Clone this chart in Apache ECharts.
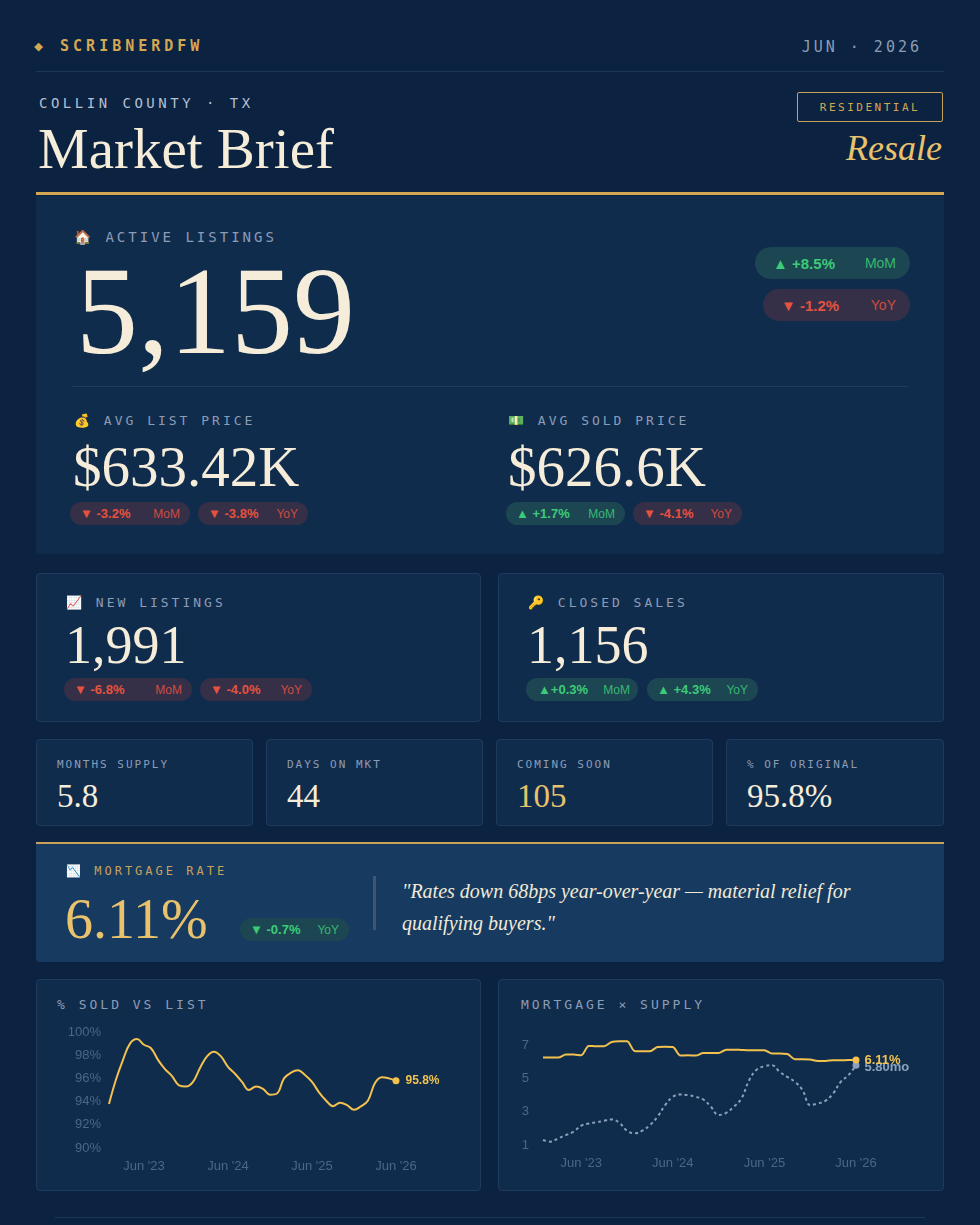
<!DOCTYPE html>
<html><head><meta charset="utf-8">
<script src="https://cdn.jsdelivr.net/npm/echarts@6/dist/echarts.min.js"></script>
<style>
html,body{margin:0;padding:0;background:#0b2341;width:980px;height:1225px;overflow:hidden}
.a{position:absolute;white-space:nowrap}
.mono{font-family:"DejaVu Sans Mono",monospace;letter-spacing:3px}
.serif{font-family:"Liberation Serif","DejaVu Serif",serif;color:#f5edd9}
.card{position:absolute;background:#102c4d;border:1px solid #1e3b5e;border-radius:4px;box-sizing:border-box}
.pill{position:absolute;border-radius:14px;font-family:"Liberation Sans",sans-serif;font-size:13px;display:flex;align-items:center;box-sizing:border-box;padding:0 10px}
.up{background:#1c4752;color:#3ccb78}
.dn{background:#352f48;color:#e5533f}
.pill b{font-weight:600}
.pill i{font-style:normal;margin-left:auto;opacity:.85;font-size:12px}
.lab{font-family:"DejaVu Sans Mono",monospace;letter-spacing:3px;color:#8d9cb5;font-size:13px}
</style></head><body>
<script>
// ---- data ----
const months = ["Jan '23","Feb '23","Mar '23","Apr '23","May '23","Jun '23","Jul '23","Aug '23","Sep '23","Oct '23","Nov '23","Dec '23",
"Jan '24","Feb '24","Mar '24","Apr '24","May '24","Jun '24","Jul '24","Aug '24","Sep '24","Oct '24","Nov '24","Dec '24",
"Jan '25","Feb '25","Mar '25","Apr '25","May '25","Jun '25","Jul '25","Aug '25","Sep '25","Oct '25","Nov '25","Dec '25",
"Jan '26","Feb '26","Mar '26","Apr '26","May '26","Jun '26"];
const soldVsList = [93.8,95.9,97.6,99.0,99.4,98.9,98.6,97.6,96.8,96.2,95.4,95.3,95.7,96.9,97.9,98.3,97.9,97.0,96.4,95.7,95.0,95.3,95.1,94.6,94.7,96.0,96.5,96.7,96.3,95.7,94.8,94.1,93.6,93.9,93.7,93.3,93.6,94.1,95.6,96.1,96.0,95.8];
const mortgageRate = [6.26,6.26,6.26,6.44,6.44,6.40,6.96,6.94,6.94,7.20,7.24,7.24,6.66,6.64,6.64,6.90,6.92,6.90,6.38,6.40,6.38,6.54,6.54,6.54,6.74,6.74,6.72,6.70,6.70,6.70,6.50,6.50,6.48,6.16,6.16,6.14,6.06,6.06,6.10,6.10,6.11,6.11];
const monthsSupply = [1.3,1.2,1.4,1.6,1.8,2.16,2.3,2.36,2.46,2.54,2.34,1.86,1.7,1.86,2.2,2.7,3.4,3.9,4.04,4.0,3.9,3.74,3.3,2.8,2.94,3.3,3.8,4.9,5.54,5.74,5.8,5.4,5.1,4.8,4.3,3.4,3.5,3.66,4.1,4.8,5.2,5.8];
const soldTicks = [90,92,94,96,98,100];
const supplyTicks = [1,3,5,7];
</script>
<div class="a mono" style="left:34px;top:37px;color:#d4a853;font-size:15px;font-weight:bold;letter-spacing:4px">◆ SCRIBNERDFW</div>
<div class="a mono" style="right:58px;top:38px;color:#8d9cb5;font-size:15px">JUN · 2026</div>
<div class="a" style="left:36px;top:71px;width:908px;height:1px;background:#1d3756"></div>
<div class="a mono" style="left:39px;top:95px;color:#b4bfd0;font-size:14px;letter-spacing:3.5px">COLLIN COUNTY · TX</div>
<div class="a serif" style="left:38px;top:116px;font-size:57px">Market Brief</div>
<div class="a mono" style="left:797px;top:92px;width:146px;height:30px;border:1px solid #c9a25a;border-radius:2px;box-sizing:border-box;color:#d4a853;font-size:11px;display:flex;align-items:center;justify-content:center;letter-spacing:2.5px">RESIDENTIAL</div>
<div class="a serif" style="right:38px;top:127px;font-size:36px;font-style:italic;color:#e8c26c">Resale</div>
<div class="a" style="left:36px;top:192px;width:908px;height:3px;background:#d4a853"></div>

<div class="card" style="left:36px;top:196px;width:908px;height:358px;border:none;border-radius:0 0 4px 4px;background:#102c4d"></div>
<div class="a lab" style="left:74px;top:229px;font-size:14px">🏠 ACTIVE LISTINGS</div>
<div class="a serif" style="left:76px;top:262px;font-size:124px;line-height:100px">5,159</div>
<div class="pill up" style="left:755px;top:247px;width:155px;height:32px;font-size:15px;border-radius:16px;padding:0 14px 0 18px"><b>▲ +8.5%</b><i style="font-size:14px">MoM</i></div>
<div class="pill dn" style="left:763px;top:289px;width:147px;height:32px;font-size:15px;border-radius:16px;padding:0 14px 0 18px"><b>▼ -1.2%</b><i style="font-size:14px">YoY</i></div>
<div class="a" style="left:72px;top:386px;width:836px;height:1px;background:#1f3c5f"></div>

<div class="a lab" style="left:74px;top:413px">💰 AVG LIST PRICE</div>
<div class="a serif" style="left:73px;top:434px;font-size:57px">$633.42K</div>
<div class="pill dn" style="left:70px;top:502px;width:120px;height:23px"><b>▼ -3.2%</b><i>MoM</i></div>
<div class="pill dn" style="left:198px;top:502px;width:110px;height:23px"><b>▼ -3.8%</b><i>YoY</i></div>
<div class="a lab" style="left:508px;top:413px">💵 AVG SOLD PRICE</div>
<div class="a serif" style="left:508px;top:434px;font-size:57px">$626.6K</div>
<div class="pill up" style="left:506px;top:502px;width:119px;height:23px"><b>▲ +1.7%</b><i>MoM</i></div>
<div class="pill dn" style="left:633px;top:502px;width:109px;height:23px"><b>▼ -4.1%</b><i>YoY</i></div>

<div class="card" style="left:36px;top:573px;width:445px;height:149px"></div>
<div class="a lab" style="left:66px;top:595px">📈 NEW LISTINGS</div>
<div class="a serif" style="left:65px;top:614px;font-size:54px">1,991</div>
<div class="pill dn" style="left:64px;top:678px;width:128px;height:23px"><b>▼ -6.8%</b><i>MoM</i></div>
<div class="pill dn" style="left:200px;top:678px;width:112px;height:23px"><b>▼ -4.0%</b><i>YoY</i></div>
<div class="card" style="left:498px;top:573px;width:446px;height:149px"></div>
<div class="a lab" style="left:528px;top:595px">🔑 CLOSED SALES</div>
<div class="a serif" style="left:527px;top:614px;font-size:54px">1,156</div>
<div class="pill up" style="left:526px;top:678px;width:112px;height:23px;padding:0 8px 0 12px"><b>▲+0.3%</b><i>MoM</i></div>
<div class="pill up" style="left:647px;top:678px;width:111px;height:23px"><b>▲ +4.3%</b><i>YoY</i></div>

<div class="card" style="left:36px;top:739px;width:217px;height:87px"></div>
<div class="a lab" style="left:57px;top:758px;font-size:11px;letter-spacing:2px">MONTHS SUPPLY</div>
<div class="a serif" style="left:57px;top:778px;font-size:33px">5.8</div>
<div class="card" style="left:266px;top:739px;width:217px;height:87px"></div>
<div class="a lab" style="left:287px;top:758px;font-size:11px;letter-spacing:2px">DAYS ON MKT</div>
<div class="a serif" style="left:287px;top:778px;font-size:33px">44</div>
<div class="card" style="left:496px;top:739px;width:217px;height:87px"></div>
<div class="a lab" style="left:517px;top:758px;font-size:11px;letter-spacing:2px">COMING SOON</div>
<div class="a serif" style="left:517px;top:778px;font-size:33px;color:#e8c26c">105</div>
<div class="card" style="left:726px;top:739px;width:218px;height:87px"></div>
<div class="a lab" style="left:747px;top:758px;font-size:11px;letter-spacing:2px">% OF ORIGINAL</div>
<div class="a serif" style="left:747px;top:778px;font-size:33px">95.8%</div>

<div class="card" style="left:36px;top:842px;width:908px;height:120px;background:#173a61;border:none;border-top:2px solid #c9a25a;border-radius:0 0 4px 4px"></div>
<div class="a lab" style="left:66px;top:864px;color:#c9a25a;font-size:12px">📉 MORTGAGE RATE</div>
<div class="a serif" style="left:65px;top:887px;font-size:56px;color:#e8c26c">6.11%</div>
<div class="pill up" style="left:240px;top:918px;width:109px;height:23px"><b>▼ -0.7%</b><i>YoY</i></div>
<div class="a" style="left:373px;top:876px;width:3px;height:54px;background:#3f5673"></div>
<div class="a serif" style="left:402px;top:875px;font-size:20px;font-style:italic;line-height:32px;color:#f2ead6">"Rates down 68bps year-over-year — material relief for<br>qualifying buyers."</div>

<div class="card" style="left:36px;top:979px;width:445px;height:212px"></div>
<div class="a lab" style="left:57px;top:997px">% SOLD VS LIST</div>
<div id="c1" class="a" style="left:36px;top:979px;width:445px;height:212px"></div>
<div class="card" style="left:498px;top:979px;width:446px;height:212px"></div>
<div class="a lab" style="left:521px;top:997px">MORTGAGE × SUPPLY</div>
<div id="c2" class="a" style="left:498px;top:979px;width:446px;height:212px"></div>
<div class="a" style="left:55px;top:1217px;width:870px;height:1px;background:#1d3756"></div>

<script>
const labelColor = '#4b6688';
const isJun = (i) => months[i].startsWith('Jun');
const last = months.length - 1;
function xAxis(){
  return {type:'category',data:months,boundaryGap:false,axisLine:{show:false},axisTick:{show:false},
    axisLabel:{interval:(i)=>isJun(i),color:labelColor,fontSize:13,fontFamily:'Liberation Sans',margin:12}};
}
const c1 = echarts.init(document.getElementById('c1'));
c1.setOption({
  animation:false,
  grid:{left:73,right:85,top:53,bottom:43},
  xAxis:xAxis(),
  yAxis:{type:'value',min:soldTicks[0],max:soldTicks[soldTicks.length-1],interval:2,splitLine:{show:false},
    axisLabel:{color:labelColor,fontSize:13,fontFamily:'Liberation Sans',formatter:'{value}%',margin:8}},
  series:[{type:'line',data:soldVsList,smooth:0.4,lineStyle:{color:'#f2c14e',width:2},itemStyle:{color:'#f2c14e'},
    showSymbol:true,symbol:'circle',symbolSize:(v,p)=>p.dataIndex===last?7:0,
    label:{show:true,position:'right',distance:6,color:'#f2c14e',fontWeight:'bold',fontSize:12,fontFamily:'Liberation Sans',
      formatter:(p)=>p.dataIndex===last?p.value.toFixed(1)+'%':''}}]
});
const c2 = echarts.init(document.getElementById('c2'));
c2.setOption({
  animation:false,
  grid:{left:45,right:88,top:58,bottom:46},
  xAxis:xAxis(),
  yAxis:{type:'value',min:supplyTicks[0],max:7.5,interval:2,splitLine:{show:false},
    axisLabel:{color:labelColor,fontSize:13,fontFamily:'Liberation Sans',showMaxLabel:false,margin:14}},
  series:[
   {type:'line',data:mortgageRate,smooth:0.3,lineStyle:{color:'#f2c14e',width:2},itemStyle:{color:'#f2c14e'},
    showSymbol:true,symbol:'circle',symbolSize:(v,p)=>p.dataIndex===last?7:0,z:3,
    label:{show:true,position:'right',distance:5,color:'#f2c14e',fontWeight:'bold',fontSize:13,fontFamily:'Liberation Sans',
      formatter:(p)=>p.dataIndex===last?p.value.toFixed(2)+'%':''}},
   {type:'line',data:monthsSupply,smooth:0.4,lineStyle:{color:'#8aa0bd',width:2,type:[3,3]},itemStyle:{color:'#8aa0bd'},
    showSymbol:true,symbol:'circle',symbolSize:(v,p)=>p.dataIndex===last?7:0,z:2,
    label:{show:true,position:'right',distance:5,offset:[0,2],color:'#8aa0bd',fontWeight:'bold',fontSize:13,fontFamily:'Liberation Sans',
      formatter:(p)=>p.dataIndex===last?p.value.toFixed(2)+'mo':''}}]
});
</script>
</body></html>
